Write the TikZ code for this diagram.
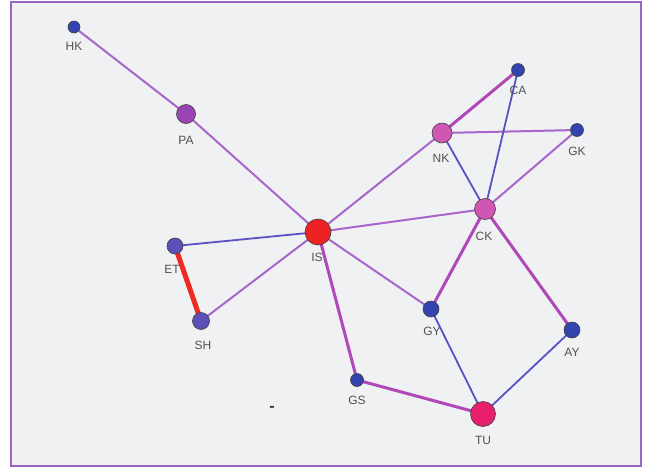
\documentclass[tikz,border=0pt]{standalone}
\usepackage{fontspec}
\setmainfont{Liberation Sans}
\pgfdeclarelayer{panel}
\pgfdeclarelayer{links}
\pgfsetlayers{panel,links,main}
\begin{document}
\begin{tikzpicture}[x=1pt,y=-1pt,
  vtx/.style={circle,draw=black!75,line width=0.6pt,inner sep=0pt},
  lbl/.style={font=\fontsize{12}{12}\selectfont,text=black!68,inner sep=0pt},
  lnk/.style={line width=2pt,draw=linkpurple},
  lnkb/.style={line width=1.8pt,draw=linkblue},
  lnkm/.style={line width=3pt,draw=linkmag},
  lnkr/.style={line width=5pt,draw=linkred}]
\definecolor{bgpanel}{HTML}{F0F1F3}
\definecolor{framepurple}{HTML}{9A66C2}
\definecolor{linkpurple}{HTML}{A866CC}
\definecolor{linkblue}{HTML}{5A52C4}
\definecolor{linkmag}{HTML}{B048B8}
\definecolor{linkred}{HTML}{EE2A22}
\definecolor{nblue}{HTML}{3344B0}
\definecolor{nlav}{HTML}{5A50B8}
\definecolor{npurple}{HTML}{9A44B4}
\definecolor{npink}{HTML}{D056B4}
\definecolor{nred}{HTML}{EE2222}
\definecolor{nrose}{HTML}{E8206C}
% page and frame
\useasboundingbox (0,0) rectangle (652,471);
\begin{pgfonlayer}{panel}
\fill[white] (0,0) rectangle (652,471);
\filldraw[fill=bgpanel,draw=framepurple,line width=2pt] (11,1.5) rectangle (641,466);
\end{pgfonlayer}
% vertices
\node[vtx,fill=nblue,minimum size=12pt]   (HK) at (74,27) {};
\node[vtx,fill=npurple,minimum size=19pt] (PA) at (186,114) {};
\node[vtx,fill=nred,minimum size=26pt]    (IS) at (318,232) {};
\node[vtx,fill=nlav,minimum size=16pt]    (ET) at (175,246) {};
\node[vtx,fill=nlav,minimum size=17pt]    (SH) at (201,321) {};
\node[vtx,fill=npink,minimum size=20pt]   (NK) at (442,133) {};
\node[vtx,fill=nblue,minimum size=13pt]   (CA) at (518,70) {};
\node[vtx,fill=nblue,minimum size=13pt]   (GK) at (577,130) {};
\node[vtx,fill=npink,minimum size=21pt]   (CK) at (485,209) {};
\node[vtx,fill=nblue,minimum size=16pt]   (GY) at (431,309) {};
\node[vtx,fill=nblue,minimum size=16pt]   (AY) at (572,330) {};
\node[vtx,fill=nblue,minimum size=13pt]   (GS) at (357,380) {};
\node[vtx,fill=nrose,minimum size=25pt]   (TU) at (483,414) {};
% links, kept beneath the vertices
\begin{pgfonlayer}{links}
\path[lnk]  (HK.center) -- (PA.center);
\path[lnk]  (PA.center) -- (IS.center);
\path[lnk]  (IS.center) -- (NK.center);
\path[lnk]  (IS.center) -- (CK.center);
\path[lnkb] (IS.center) -- (ET.center);
\path[lnk]  (IS.center) -- (SH.center);
\path[lnk]  (IS.center) -- (GY.center);
\path[lnkm] (IS.center) -- (GS.center);
\path[lnkr] (ET.center) -- (SH.center);
\path[lnkm] (NK.center) -- (CA.center);
\path[lnk]  (NK.center) -- (GK.center);
\path[lnkb] (NK.center) -- (CK.center);
\path[lnkb] (CA.center) -- (CK.center);
\path[lnk]  (GK.center) -- (CK.center);
\path[lnkm] (CK.center) -- (GY.center);
\path[lnkm] (CK.center) -- (AY.center);
\path[lnkb] (GY.center) -- (TU.center);
\path[lnkb] (AY.center) -- (TU.center);
\path[lnkm] (GS.center) -- (TU.center);
\end{pgfonlayer}
% labels
\node[lbl] (lHK) at (74,46)  {HK};
\node[lbl] (lPA) at (186,140) {PA};
\node[lbl] (lIS) at (317,257) {IS};
\node[lbl] (lET) at (172,269) {ET};
\node[lbl] (lSH) at (203,345) {SH};
\node[lbl] (lNK) at (441,158) {NK};
\node[lbl] (lCA) at (518,90)  {CA};
\node[lbl] (lGK) at (577,151) {GK};
\node[lbl] (lCK) at (484,236) {CK};
\node[lbl] (lGY) at (432,331) {GY};
\node[lbl] (lAY) at (572,352) {AY};
\node[lbl] (lGS) at (357,400) {GS};
\node[lbl] (lTU) at (483,440) {TU};
\node[lbl,font=\fontsize{16}{16}\selectfont\bfseries,text=black!80] (dash) at (272,409) {-};
\end{tikzpicture}
\end{document}
